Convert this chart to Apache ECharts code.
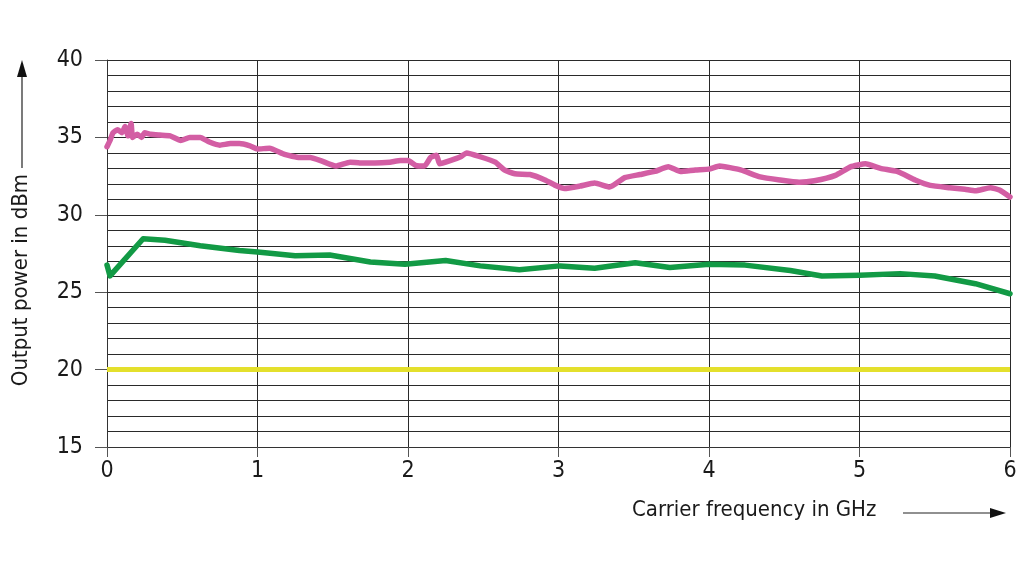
<!DOCTYPE html>
<html>
<head>
<meta charset="utf-8">
<script src="https://cdn.jsdelivr.net/npm/echarts@6/dist/echarts.min.js"></script>
<style>html,body{margin:0;padding:0;background:#fff}#c{width:1024px;height:576px}</style>
</head>
<body>
<div id="c"></div>
<script>
const xTicks = [0, 1, 2, 3, 4, 5, 6];
const yTicks = [15, 20, 25, 30, 35, 40];
const pinkFreq = [0, 0.02, 0.04, 0.07, 0.10, 0.12, 0.14, 0.16, 0.17, 0.2, 0.23, 0.25, 0.29, 0.35, 0.42, 0.49, 0.55, 0.62, 0.68, 0.75, 0.82, 0.88, 0.95, 1.0, 1.08, 1.18, 1.28, 1.35, 1.42, 1.52, 1.615, 1.68, 1.78, 1.88, 1.95, 2.0, 2.05, 2.11, 2.15, 2.19, 2.21, 2.28, 2.35, 2.39, 2.48, 2.58, 2.64, 2.71, 2.81, 2.91, 2.98, 3.04, 3.14, 3.24, 3.34, 3.44, 3.54, 3.64, 3.73, 3.81, 3.91, 4.0, 4.07, 4.21, 4.34, 4.47, 4.6, 4.7, 4.84, 4.94, 5.04, 5.14, 5.25, 5.37, 5.47, 5.6, 5.7, 5.77, 5.87, 5.93, 6.0];
const pinkValues = [34.4, 34.8, 35.3, 35.5, 35.3, 35.7, 35.1, 35.9, 35.0, 35.2, 35.0, 35.3, 35.2, 35.15, 35.1, 34.8, 35.0, 35.0, 34.7, 34.5, 34.6, 34.6, 34.45, 34.25, 34.3, 33.9, 33.7, 33.7, 33.5, 33.15, 33.4, 33.35, 33.35, 33.4, 33.5, 33.5, 33.2, 33.15, 33.7, 33.85, 33.3, 33.5, 33.75, 34.0, 33.75, 33.4, 32.9, 32.65, 32.6, 32.25, 31.9, 31.7, 31.85, 32.05, 31.8, 32.4, 32.6, 32.8, 33.1, 32.8, 32.9, 32.95, 33.15, 32.9, 32.45, 32.25, 32.1, 32.2, 32.55, 33.1, 33.3, 33.0, 32.8, 32.25, 31.9, 31.75, 31.65, 31.55, 31.75, 31.6, 31.15];
const greenFreq = [0, 0.02, 0.24, 0.385, 0.62, 0.88, 1.0, 1.25, 1.48, 1.75, 1.98, 2.25, 2.48, 2.74, 3.01, 3.24, 3.51, 3.74, 4.0, 4.24, 4.54, 4.75, 5.0, 5.27, 5.5, 5.77, 6.0];
const greenValues = [26.75, 26.05, 28.45, 28.35, 28.0, 27.7, 27.6, 27.35, 27.4, 26.95, 26.8, 27.05, 26.7, 26.45, 26.7, 26.55, 26.9, 26.6, 26.8, 26.75, 26.4, 26.05, 26.1, 26.2, 26.05, 25.55, 24.9];
const yellowFreq = [0, 6];
const yellowValues = [20, 20];
const xName = 'Carrier frequency in GHz';
const yName = 'Output power in dBm';

const zip = (a, b) => a.map((v, i) => [v, b[i]]);
const font = '"Liberation Sans Narrow", "DejaVu Sans Condensed", "Roboto", sans-serif';
const chart = echarts.init(document.getElementById('c'));
chart.setOption({
  animation: false,
  backgroundColor: '#fff',
  grid: { left: 107, right: 14, top: 60, bottom: 129, containLabel: false },
  xAxis: {
    type: 'value', min: xTicks[0], max: xTicks[xTicks.length - 1], interval: 1,
    axisLine: { show: true, lineStyle: { color: '#333', width: 1 } },
    axisTick: { show: true, length: 10, lineStyle: { color: '#555' } },
    axisLabel: { color: '#1a1a1a', fontSize: 23, fontFamily: font, margin: 13 },
    splitLine: { show: true, lineStyle: { color: '#2a2a2a', width: 1 } }
  },
  yAxis: {
    type: 'value', min: yTicks[0], max: yTicks[yTicks.length - 1], interval: 5,
    axisLine: { show: true, lineStyle: { color: '#333', width: 1 } },
    axisTick: { show: true, length: 12, lineStyle: { color: '#555' } },
    axisLabel: { color: '#1a1a1a', fontSize: 23, fontFamily: font, margin: 24 },
    splitLine: { show: true, lineStyle: { color: '#2a2a2a', width: 1 } },
    minorTick: { show: false, splitNumber: 5 },
    minorSplitLine: { show: true, lineStyle: { color: '#2a2a2a', width: 1 } }
  },
  graphic: [
    { type: 'text', left: 632, top: 499, style: { text: xName, fontSize: 22, fontFamily: font, fill: '#1a1a1a' } },
    { type: 'line', shape: { x1: 903, y1: 513, x2: 995, y2: 513 }, style: { stroke: '#222', lineWidth: 1.2 } },
    { type: 'polygon', shape: { points: [[990, 508], [1006, 513], [990, 518]] }, style: { fill: '#111' } },
    { type: 'text', x: 21, y: 280, rotation: Math.PI / 2, style: { text: yName, fontSize: 22, fontFamily: font, fill: '#1a1a1a', align: 'center', verticalAlign: 'middle' } },
    { type: 'line', shape: { x1: 22, y1: 168, x2: 22, y2: 72 }, style: { stroke: '#222', lineWidth: 1.2 } },
    { type: 'polygon', shape: { points: [[17, 77], [22, 60], [27, 77]] }, style: { fill: '#111' } }
  ],
  series: [
    { type: 'line', data: zip(yellowFreq, yellowValues), showSymbol: false, lineStyle: { color: '#e4e02c', width: 5 }, z: 3 },
    { type: 'line', data: zip(greenFreq, greenValues), showSymbol: false, lineStyle: { color: '#129a45', width: 5.5, join: 'round', cap: 'round' }, z: 4 },
    { type: 'line', data: zip(pinkFreq, pinkValues), showSymbol: false, smooth: 0.15, lineStyle: { color: '#d35ea4', width: 5.5, join: 'round', cap: 'round' }, z: 5 }
  ]
});
</script>
</body>
</html>
